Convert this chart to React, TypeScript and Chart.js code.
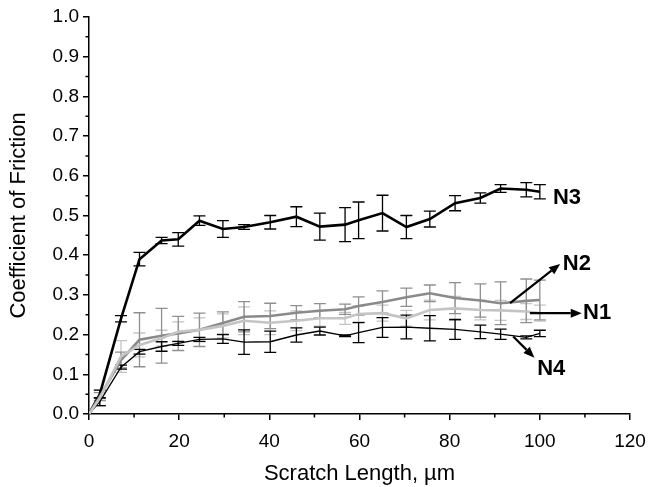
import React, { useEffect, useRef } from "react";
import { Chart, registerables } from "chart.js";
Chart.register(...registerables);

// Scratch length positions (µm)
const xPositions = [0, 2.4, 7.1, 11.2, 16.1, 19.8, 24.5, 29.7, 34.4, 40.2, 46.0, 51.2, 56.8, 59.8, 65.1, 70.4, 75.6, 81.2, 86.8, 91.3, 97.0, 100];

const n3 = [0, 0.05, 0.24, 0.39, 0.437, 0.44, 0.487, 0.466, 0.471, 0.483, 0.497, 0.472, 0.477, 0.488, 0.506, 0.471, 0.491, 0.531, 0.544, 0.568, 0.565, 0.56];
const n3Err = [0, 0.01, 0.008, 0.017, 0.008, 0.017, 0.012, 0.021, 0.006, 0.017, 0.025, 0.034, 0.043, 0.046, 0.045, 0.029, 0.02, 0.019, 0.013, 0.01, 0.018, 0.018];

const n2 = [0, 0.044, 0.136, 0.187, 0.197, 0.203, 0.212, 0.229, 0.245, 0.247, 0.255, 0.26, 0.264, 0.272, 0.282, 0.294, 0.304, 0.292, 0.286, 0.279, 0.285, 0.287];
const n2Err = [0, 0.01, 0.02, 0.068, 0.069, 0.043, 0.042, 0.028, 0.038, 0.032, 0.018, 0.018, 0.013, 0.023, 0.028, 0.023, 0.021, 0.039, 0.042, 0.054, 0.055, 0.05];

const n1 = [0, 0.04, 0.145, 0.174, 0.191, 0.207, 0.212, 0.222, 0.235, 0.23, 0.235, 0.241, 0.241, 0.252, 0.254, 0.241, 0.262, 0.266, 0.262, 0.261, 0.258, 0.254];
const n1Err = [0, 0.02, 0.04, 0.03, 0.02, 0.025, 0.03, 0.03, 0.035, 0.03, 0.025, 0.02, 0.015, 0.02, 0.02, 0.02, 0.025, 0.03, 0.025, 0.025, 0.02, 0.02];

const n4 = [0, 0.031, 0.118, 0.157, 0.17, 0.178, 0.188, 0.189, 0.181, 0.182, 0.199, 0.209, 0.197, 0.205, 0.218, 0.219, 0.216, 0.213, 0.207, 0.201, 0.193, 0.203];
const n4Err = [0, 0.01, 0.005, 0.006, 0.012, 0.005, 0.005, 0.011, 0.031, 0.027, 0.018, 0.01, 0.002, 0.025, 0.025, 0.03, 0.032, 0.025, 0.017, 0.013, 0.004, 0.008];

// Annotation labels (data units)
const labelTexts = ["N3", "N2", "N1", "N4"];
const labelPos = [
  [102.9, 0.545],
  [105.1, 0.377],
  [109.6, 0.254],
  [99.4, 0.113],
];
// Arrows: [x1, y1, x2, y2] (data units), null for no arrow
const arrows = [
  null,
  [93.4, 0.279, 104.5, 0.378],
  [97.8, 0.254, 109.3, 0.254],
  [94.1, 0.195, 98.8, 0.142],
];

const FONT = "'Liberation Sans', Arial, sans-serif";

const series = [
  { name: "N1", values: n1, err: n1Err, color: "#c4c4c4", barColor: "#c4c4c4", width: 2.6, barWidth: 1.3 },
  { name: "N2", values: n2, err: n2Err, color: "#8a8a8a", barColor: "#8f8f8f", width: 2.6, barWidth: 1.3 },
  { name: "N4", values: n4, err: n4Err, color: "#000000", barColor: "#000000", width: 1.3, barWidth: 1.3 },
  { name: "N3", values: n3, err: n3Err, color: "#000000", barColor: "#000000", width: 2.6, barWidth: 1.3 },
];

const errorBarPlugin = {
  id: "errorBars",
  beforeDatasetsDraw(chart: any) {
    const { ctx, scales } = chart;
    const xs = scales.x;
    const ys = scales.y;
    ctx.save();
    series.forEach((s) => {
      ctx.strokeStyle = s.barColor;
      ctx.lineWidth = s.barWidth;
      s.values.forEach((v, i) => {
        const e = s.err[i];
        if (!e) return;
        const px = xs.getPixelForValue(xPositions[i]);
        const pt = ys.getPixelForValue(v + e);
        const pb = ys.getPixelForValue(v - e);
        const cap = 6;
        ctx.beginPath();
        ctx.moveTo(px, pt);
        ctx.lineTo(px, pb);
        ctx.moveTo(px - cap, pt);
        ctx.lineTo(px + cap, pt);
        ctx.moveTo(px - cap, pb);
        ctx.lineTo(px + cap, pb);
        ctx.stroke();
      });
    });
    ctx.restore();
  },
};

const minorTickPlugin = {
  id: "minorTicks",
  afterDraw(chart: any) {
    const { ctx, scales, chartArea } = chart;
    ctx.save();
    ctx.strokeStyle = "#000";
    ctx.lineWidth = 1.5;
    ctx.beginPath();
    for (let v = 10; v < 120; v += 20) {
      const px = scales.x.getPixelForValue(v);
      ctx.moveTo(px, chartArea.bottom);
      ctx.lineTo(px, chartArea.bottom + 3.5);
    }
    for (let k = 0; k < 10; k++) {
      const v = k / 10 + 0.05;
      const py = scales.y.getPixelForValue(v);
      ctx.moveTo(chartArea.left, py);
      ctx.lineTo(chartArea.left - 3.5, py);
    }
    ctx.stroke();
    ctx.restore();
  },
};

const annotationPlugin = {
  id: "annotations",
  afterDraw(chart: any) {
    const { ctx, scales } = chart;
    const xs = scales.x;
    const ys = scales.y;
    ctx.save();
    ctx.fillStyle = "#000";
    ctx.strokeStyle = "#000";
    ctx.font = `bold 22px ${FONT}`;
    ctx.textBaseline = "middle";
    ctx.textAlign = "left";
    labelTexts.forEach((t, i) => {
      const [lx, ly] = labelPos[i];
      ctx.fillText(t, xs.getPixelForValue(lx), ys.getPixelForValue(ly));
      const a = arrows[i];
      if (a) {
        const x1 = xs.getPixelForValue(a[0]);
        const y1 = ys.getPixelForValue(a[1]);
        const x2 = xs.getPixelForValue(a[2]);
        const y2 = ys.getPixelForValue(a[3]);
        const ang = Math.atan2(y2 - y1, x2 - x1);
        const head = 11;
        const hw = 4.5;
        const bx = x2 - head * Math.cos(ang);
        const by = y2 - head * Math.sin(ang);
        ctx.lineWidth = 2.2;
        ctx.beginPath();
        ctx.moveTo(x1, y1);
        ctx.lineTo(bx, by);
        ctx.stroke();
        ctx.beginPath();
        ctx.moveTo(x2, y2);
        ctx.lineTo(bx + hw * Math.sin(ang), by - hw * Math.cos(ang));
        ctx.lineTo(bx - hw * Math.sin(ang), by + hw * Math.cos(ang));
        ctx.closePath();
        ctx.fill();
      }
    });
    ctx.restore();
  },
};

export default function App() {
  const canvasRef = useRef<HTMLCanvasElement | null>(null);

  useEffect(() => {
    if (!canvasRef.current) return;
    const datasets = series.map((s) => ({
      label: s.name,
      data: s.values.map((v, i) => ({ x: xPositions[i], y: v })),
      borderColor: s.color,
      backgroundColor: s.color,
      borderWidth: s.width,
      pointRadius: 0,
      tension: 0,
      fill: false,
    }));
    const chart = new Chart(canvasRef.current, {
      type: "line",
      data: { datasets },
      options: {
        animation: false,
        responsive: false,
        layout: { padding: { left: 0, top: 17, right: 21, bottom: 0 } },
        plugins: { legend: { display: false }, tooltip: { enabled: false } },
        scales: {
          x: {
            type: "linear",
            min: 0,
            max: 120,
            afterFit: (scale: any) => {
              scale.height = 73;
              scale.paddingLeft = 0;
              scale.paddingRight = 0;
            },
            ticks: {
              stepSize: 20,
              color: "#000",
              font: { family: FONT, size: 19 },
              padding: 10,
            },
            grid: { drawOnChartArea: false, drawTicks: true, tickLength: 6, color: "#000", lineWidth: 1.5 },
            border: { display: true, color: "#000", width: 1.5 },
            title: {
              display: true,
              text: "Scratch Length, µm",
              color: "#000",
              font: { family: FONT, size: 22 },
              padding: { top: 0, bottom: 0 },
            },
          },
          y: {
            type: "linear",
            min: 0,
            max: 1,
            afterFit: (scale: any) => {
              scale.width = 89;
              scale.paddingTop = 0;
              scale.paddingBottom = 0;
            },
            ticks: {
              stepSize: 0.1,
              color: "#000",
              font: { family: FONT, size: 19 },
              padding: 4,
              callback: (v: any) => Number(v).toFixed(1),
            },
            grid: { drawOnChartArea: false, drawTicks: true, tickLength: 6, color: "#000", lineWidth: 1.5 },
            border: { display: true, color: "#000", width: 1.5 },
            title: {
              display: true,
              text: "Coefficient of Friction",
              color: "#000",
              font: { family: FONT, size: 22 },
              padding: { top: 6, bottom: 0 },
            },
          },
        },
      },
      plugins: [errorBarPlugin, minorTickPlugin, annotationPlugin],
    });
    return () => chart.destroy();
  }, []);

  return (
    <div style={{ position: "absolute", left: 0, top: 0, width: 651, height: 487, background: "#fff" }}>
      <canvas ref={canvasRef} width={651} height={487} style={{ display: "block" }} />
    </div>
  );
}
